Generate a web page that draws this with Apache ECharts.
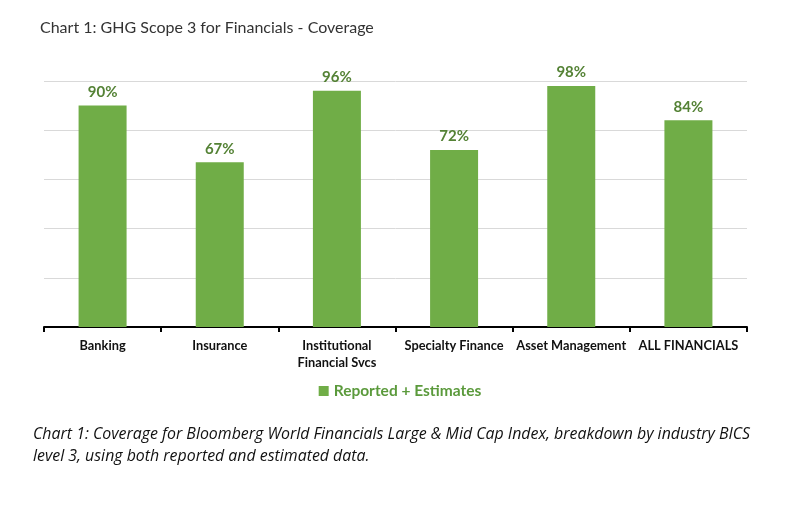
<!DOCTYPE html>
<html>
<head>
<meta charset="utf-8">
<script src="https://cdn.jsdelivr.net/npm/echarts@6/dist/echarts.min.js"></script>
<style>html,body{margin:0;padding:0;background:#fff;}#c{width:800px;height:510px;}</style>
</head>
<body>
<div id="c"></div>
<script>
const categories = ['Banking', 'Insurance', 'Institutional\nFinancial Svcs', 'Specialty Finance', 'Asset Management', 'ALL FINANCIALS'];
const coverage = [0.90, 0.67, 0.96, 0.72, 0.98, 0.84];
const seriesName = 'Reported + Estimates';
const chartTitle = 'Chart 1: GHG Scope 3 for Financials - Coverage';
const caption = 'Chart 1: Coverage for Bloomberg World Financials Large & Mid Cap Index, breakdown by industry BICS\nlevel 3, using both reported and estimated data.';

const chart = echarts.init(document.getElementById('c'));
chart.setOption({
  animation: false,
  title: [
    { text: chartTitle, left: 35, top: 15,
      textStyle: { fontFamily: 'Lato', fontSize: 16, fontWeight: 'normal', color: '#333' } },
    { text: caption, left: 28, top: 418,
      textStyle: { fontFamily: 'Open Sans', fontSize: 15.9, fontStyle: 'italic', fontWeight: 'normal', color: '#111', lineHeight: 22 } }
  ],
  legend: {
    top: 378, left: 'center',
    itemWidth: 10, itemHeight: 10, itemGap: 6,
    icon: 'rect',
    textStyle: { fontFamily: 'Lato', fontSize: 15.5, fontWeight: 'bold', color: '#5B9A3C' },
    data: [seriesName]
  },
  grid: { left: 44, right: 53, top: 81, bottom: 183, containLabel: false },
  xAxis: {
    type: 'category',
    data: categories,
    axisLine: { lineStyle: { color: '#000', width: 2 } },
    axisTick: { show: true, length: 5, lineStyle: { color: '#000', width: 2 } },
    axisLabel: { interval: 0, fontFamily: 'Lato', fontSize: 12.8, fontWeight: 'bold', color: '#111', margin: 10, lineHeight: 17 }
  },
  yAxis: {
    type: 'value', min: 0, max: 1, interval: 0.2,
    axisLabel: { show: false },
    axisLine: { show: false },
    axisTick: { show: false },
    splitLine: { lineStyle: { color: '#d9d9d9', width: 1 } }
  },
  series: [{
    name: seriesName,
    type: 'bar',
    data: coverage,
    barWidth: 48,
    itemStyle: { color: '#70AD47' },
    label: {
      show: true, position: 'top', distance: 6,
      formatter: p => Math.round(p.value * 100) + '%',
      fontFamily: 'Lato', fontSize: 15, fontWeight: 'bold', color: '#548235'
    }
  }]
});
</script>
</body>
</html>
